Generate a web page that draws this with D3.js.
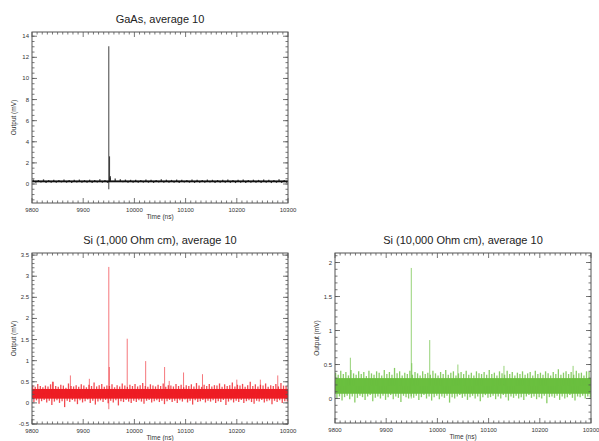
<!DOCTYPE html>
<html>
<head>
<meta charset="utf-8">
<script src="https://cdn.jsdelivr.net/npm/d3@7"></script>
<style>
  body { margin: 0; background: #fff; }
  svg { font-family: "Liberation Sans", Arial, sans-serif; }
</style>
</head>
<body>
<div id="chart"></div>
<script>
// time axis shared by all panels (ns)
const timeRange = [9800, 10300]
const timeTicks = [9800, 9900, 10000, 10100, 10200, 10300]

// GaAs: solid core of the noise band, and its peaks per 10 ns bin
const gaasCore = [0.16, 0.34]
const gaasHi = [0.42,0.38,0.44,0.37,0.41,0.39,0.43,0.38,0.40,0.42,
                0.37,0.41,0.39,0.44,0.38,0.62,0.52,0.46,0.42,0.40,
                0.41,0.39,0.43,0.40,0.38,0.46,0.41,0.39,0.42,0.40,
                0.38,0.43,0.41,0.39,0.42,0.40,0.38,0.41,0.43,0.39,
                0.40,0.42,0.38,0.41,0.39,0.43,0.40,0.38,0.45,0.39]
const gaasLo = [0.12,0.14,0.10,0.13,0.11,0.15,0.12,0.10,0.14,0.11,
                0.13,0.10,0.14,0.12,0.11,0.25,0.22,0.16,0.13,0.12,
                0.11,0.13,0.12,0.10,0.14,0.11,0.13,0.12,0.10,0.14,
                0.12,0.10,0.13,0.11,0.14,0.10,0.12,0.13,0.11,0.09,
                0.12,0.10,0.13,0.11,0.10,0.12,0.09,0.11,0.10,0.12]
// [time, top, bottom]
const gaasSpikes = [[9950, 13.05, -0.5], [9951.5, 2.62, 0.3], [9953, 0.75, 0.3]]

// Si 1,000 Ohm cm: 5 ns bins
const redCore = [0.10, 0.33]
const redHi = [0.42,0.38,0.45,0.40,0.37,0.41,0.39,0.44,0.50,0.40,
               0.38,0.43,0.41,0.36,0.46,0.40,0.39,0.42,0.38,0.44,
               0.41,0.37,0.43,0.40,0.48,0.39,0.42,0.45,0.38,0.41,
               0.40,0.44,0.37,0.42,0.39,0.46,0.41,0.38,0.43,0.40,
               0.45,0.39,0.42,0.47,0.40,0.38,0.44,0.41,0.39,0.43,
               0.40,0.46,0.38,0.42,0.41,0.39,0.45,0.40,0.43,0.37,
               0.42,0.40,0.44,0.39,0.47,0.41,0.38,0.43,0.40,0.45,
               0.39,0.42,0.41,0.46,0.38,0.44,0.40,0.42,0.48,0.39,
               0.43,0.41,0.45,0.38,0.42,0.50,0.40,0.44,0.39,0.43,
               0.41,0.46,0.38,0.42,0.40,0.45,0.39,0.47,0.41,0.40]
const redLo = [0.02,0.06,-0.02,0.04,0.07,0.01,0.05,-0.05,0.03,0.06,
               0.00,0.04,-0.10,0.05,0.02,0.07,0.03,-0.03,0.06,0.01,
               0.04,0.08,0.00,0.05,-0.04,0.03,0.06,0.02,0.07,-0.01,
               0.05,0.01,0.06,-0.06,0.04,0.02,0.07,0.03,0.00,0.05,
               0.02,0.06,0.03,-0.02,0.05,0.07,0.01,0.04,0.06,0.02,
               0.05,-0.03,0.04,0.07,0.02,0.05,0.00,0.06,0.03,0.08,
               0.01,0.05,-0.04,0.06,0.02,0.04,0.07,0.01,0.05,0.03,
               0.06,0.00,0.04,0.02,0.07,-0.05,0.03,0.06,0.01,0.05,
               0.02,0.07,0.00,0.04,0.06,0.02,-0.02,0.05,0.03,0.07,
               0.01,0.04,0.06,-0.03,0.05,0.02,0.06,0.00,0.04,0.03]
const redSpikes = [[9840, 0.50, 0.2], [9875, 0.65, 0.2], [9912, 0.57, 0.2],
                   [9950, 3.22, -0.15], [9951, 0.85, 0.2], [9986, 1.52, 0.2],
                   [10022, 0.99, 0.2], [10059, 0.85, 0.2], [10068, 0.52, 0.2],
                   [10096, 0.72, 0.2], [10133, 0.68, 0.2], [10200, 0.55, 0.2],
                   [10246, 0.55, 0.2], [10280, 0.65, 0.2]]

// Si 10,000 Ohm cm: 5 ns bins
const greenCore = [0.07, 0.30]
const greenHi = [0.38,0.35,0.41,0.36,0.39,0.34,0.42,0.37,0.35,0.40,
                 0.36,0.39,0.33,0.41,0.37,0.35,0.40,0.38,0.34,0.42,
                 0.36,0.39,0.35,0.45,0.37,0.40,0.34,0.38,0.36,0.41,
                 0.35,0.39,0.37,0.34,0.40,0.36,0.38,0.35,0.41,0.37,
                 0.34,0.39,0.36,0.42,0.35,0.38,0.40,0.34,0.37,0.39,
                 0.36,0.41,0.35,0.38,0.34,0.40,0.37,0.36,0.39,0.35,
                 0.42,0.36,0.38,0.34,0.40,0.37,0.35,0.41,0.36,0.39,
                 0.34,0.38,0.36,0.40,0.35,0.37,0.39,0.34,0.41,0.36,
                 0.38,0.35,0.40,0.37,0.34,0.39,0.36,0.43,0.35,0.38,
                 0.40,0.36,0.39,0.35,0.41,0.37,0.38,0.34,0.40,0.39]
const greenLo = [0.00,0.03,-0.03,0.02,0.04,-0.01,0.03,-0.06,0.01,0.04,
                 0.02,-0.02,0.03,0.05,-0.04,0.01,0.03,0.00,0.04,-0.02,
                 0.02,0.05,-0.01,0.03,0.01,-0.05,0.04,0.02,0.00,0.03,
                 0.01,0.04,-0.02,0.02,0.05,0.00,0.03,-0.03,0.02,0.04,
                 -0.01,0.03,0.01,0.04,-0.06,0.02,0.00,0.03,0.05,0.01,
                 0.03,-0.02,0.02,0.04,0.00,0.03,-0.04,0.02,0.05,0.01,
                 0.02,0.04,-0.01,0.03,0.00,0.05,0.02,-0.03,0.03,0.01,
                 0.04,0.00,0.02,-0.02,0.03,0.05,0.01,0.03,-0.01,0.02,
                 0.00,0.04,-0.07,0.02,0.03,0.01,0.04,-0.02,0.03,0.00,
                 0.02,0.05,0.01,-0.03,0.03,0.02,0.04,0.00,0.03,0.01]
const greenSpikes = [[9830, 0.60, 0.2], [9949, 1.92, 0.0], [9950, 0.52, 0.2],
                     [9985, 0.86, 0.2], [10040, 0.50, 0.2], [10130, 0.48, 0.2],
                     [10265, 0.48, 0.2]]

const panels = [
  { title: "GaAs, average 10", core: gaasCore, hi: gaasHi, lo: gaasLo, spikes: gaasSpikes,
    color: "#111", spikeOpacity: 0.8,
    left: 32, top: 32, width: 256, height: 171,
    yDomain: [-1.8, 14.4], yTicks: [0, 2, 4, 6, 8, 10, 12, 14], yMinor: 0.5 },
  { title: "Si (1,000 Ohm cm), average 10", core: redCore, hi: redHi, lo: redLo, spikes: redSpikes,
    color: "#ee1d24", spikeOpacity: 0.6,
    left: 32, top: 253, width: 256, height: 171,
    yDomain: [-0.5, 3.55], yTicks: [-0.5, 0, 0.5, 1, 1.5, 2, 2.5, 3, 3.5], yMinor: 0.1 },
  { title: "Si (10,000 Ohm cm), average 10", core: greenCore, hi: greenHi, lo: greenLo, spikes: greenSpikes,
    color: "#6abf3f", spikeOpacity: 0.7,
    left: 335, top: 253, width: 256, height: 170,
    yDomain: [-0.36, 2.14], yTicks: [0, 0.5, 1, 1.5, 2], yMinor: 0.1 }
]

const svg = d3.select("#chart").append("svg")
  .attr("width", 599)
  .attr("height", 441)

panels.forEach(p => {
  const g = svg.append("g").attr("transform", `translate(${p.left},${p.top})`)
  const x = d3.scaleLinear().domain(timeRange).range([0, p.width])
  const y = d3.scaleLinear().domain(p.yDomain).range([p.height, 0])

  const clip = "clip" + p.left + p.top
  g.append("clipPath").attr("id", clip)
    .append("rect").attr("width", p.width).attr("height", p.height)
  const plot = g.append("g").attr("clip-path", `url(#${clip})`)

  // solid core of the noise band
  plot.append("rect")
    .attr("x", x(timeRange[0]))
    .attr("width", x(timeRange[1]) - x(timeRange[0]))
    .attr("y", y(p.core[1]))
    .attr("height", y(p.core[0]) - y(p.core[1]))
    .attr("fill", p.color)

  // noise peaks above and below the core, per bin
  const binW = (timeRange[1] - timeRange[0]) / p.hi.length
  const mid = (p.core[0] + p.core[1]) / 2
  const peaks = []
  p.hi.forEach((h, i) => {
    const t0 = timeRange[0] + i * binW
    peaks.push([t0 + binW * 0.25, h])
    peaks.push([t0 + binW * 0.75, p.lo[i]])
  })
  plot.selectAll("line.noise")
    .data(peaks)
    .join("line")
    .attr("class", "noise")
    .attr("x1", d => x(d[0])).attr("x2", d => x(d[0]))
    .attr("y1", y(mid)).attr("y2", d => y(d[1]))
    .attr("stroke", p.color)
    .attr("stroke-opacity", 0.8)
    .attr("stroke-width", 1.3)

  plot.selectAll("line.spike")
    .data(p.spikes)
    .join("line")
    .attr("class", "spike")
    .attr("x1", d => x(d[0])).attr("x2", d => x(d[0]))
    .attr("y1", d => y(d[2])).attr("y2", d => y(d[1]))
    .attr("stroke", p.color)
    .attr("stroke-opacity", p.spikeOpacity)
    .attr("stroke-width", 1)

  // frame
  g.append("rect")
    .attr("width", p.width).attr("height", p.height)
    .attr("fill", "none").attr("stroke", "#555").attr("stroke-width", 1)

  const axisColor = "#555"
  const xMinor = d3.range(timeRange[0], timeRange[1] + 1, 10)
  const yMinor = d3.range(Math.ceil(p.yDomain[0] / p.yMinor) * p.yMinor, p.yDomain[1], p.yMinor)

  // inward ticks on all four sides
  const ticks = g.append("g").attr("stroke", axisColor).attr("stroke-width", 0.8)
  xMinor.forEach(t => {
    const major = timeTicks.includes(t)
    const len = major ? 5 : 2.5
    ticks.append("line").attr("x1", x(t)).attr("x2", x(t)).attr("y1", p.height).attr("y2", p.height - len)
    ticks.append("line").attr("x1", x(t)).attr("x2", x(t)).attr("y1", 0).attr("y2", len)
  })
  yMinor.forEach(v => {
    ticks.append("line").attr("y1", y(v)).attr("y2", y(v)).attr("x1", 0).attr("x2", 2.5)
    ticks.append("line").attr("y1", y(v)).attr("y2", y(v)).attr("x1", p.width).attr("x2", p.width - 2.5)
  })
  p.yTicks.forEach(v => {
    ticks.append("line").attr("y1", y(v)).attr("y2", y(v)).attr("x1", 0).attr("x2", 5)
    ticks.append("line").attr("y1", y(v)).attr("y2", y(v)).attr("x1", p.width).attr("x2", p.width - 5)
  })

  // tick labels
  g.append("g").selectAll("text")
    .data(timeTicks)
    .join("text")
    .attr("x", d => x(d))
    .attr("y", p.height + 9)
    .attr("text-anchor", "middle")
    .attr("font-size", 6)
    .attr("fill", "#333")
    .text(d => d)
  g.append("g").selectAll("text")
    .data(p.yTicks)
    .join("text")
    .attr("x", -3)
    .attr("y", d => y(d) + 2)
    .attr("text-anchor", "end")
    .attr("font-size", 6)
    .attr("fill", "#333")
    .text(d => d)

  // axis titles
  g.append("text")
    .attr("x", p.width / 2)
    .attr("y", p.height + 15.5)
    .attr("text-anchor", "middle")
    .attr("font-size", 6.5)
    .attr("fill", "#333")
    .text("Time (ns)")
  g.append("text")
    .attr("transform", `translate(-16,${p.height / 2}) rotate(-90)`)
    .attr("text-anchor", "middle")
    .attr("font-size", 6.5)
    .attr("fill", "#333")
    .text("Output (mV)")

  g.append("text")
    .attr("x", p.width / 2)
    .attr("y", -9)
    .attr("text-anchor", "middle")
    .attr("font-size", 11)
    .attr("fill", "#222")
    .text(p.title)
})
</script>
</body>
</html>
